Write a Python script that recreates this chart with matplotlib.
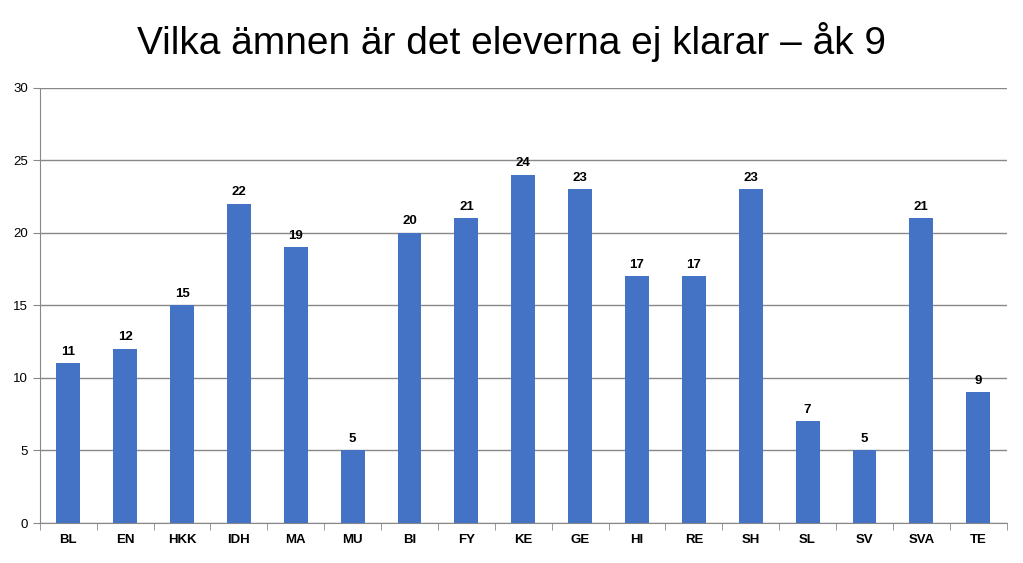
import matplotlib.pyplot as plt
import numpy as np

# Subjects and number of students not passing
subjects = ["BL", "EN", "HKK", "IDH", "MA", "MU", "BI", "FY", "KE", "GE",
            "HI", "RE", "SH", "SL", "SV", "SVA", "TE"]
counts = [11, 12, 15, 22, 19, 5, 20, 21, 24, 23, 17, 17, 23, 7, 5, 21, 9]
y_ticks = [0, 5, 10, 15, 20, 25, 30]

plt.rcParams["font.family"] = "Liberation Sans"

fig = plt.figure(figsize=(10.23, 5.63), dpi=100)
ax = fig.add_axes([0.039, 0.071, 0.945, 0.773])

x = np.arange(len(subjects))
bars = ax.bar(x, counts, width=0.42, color="#4472C4", zorder=3)

# Value labels above bars
for xi, v in zip(x, counts):
    ax.text(xi, v + 0.4, str(v), ha="center", va="bottom",
            fontsize=9.5, fontweight="bold")

ax.set_xlim(-0.5, len(subjects) - 0.5)
ax.set_ylim(0, 30)
ax.set_yticks(y_ticks)
ax.set_yticklabels([str(t) for t in y_ticks], fontsize=9.5)
ax.set_xticks(x)
ax.set_xticklabels(subjects, fontsize=9.5, fontweight="bold")
ax.set_xticks(np.arange(-0.5, len(subjects)), minor=True)
ax.tick_params(axis="x", which="major", length=0, pad=8)
ax.tick_params(axis="x", which="minor", length=5, color="#888888")
ax.tick_params(axis="y", length=5, color="#888888")

ax.yaxis.grid(True, color="#888888", linewidth=1, zorder=0)
for side in ["top", "right"]:
    ax.spines[side].set_visible(False)
ax.spines["left"].set_color("#888888")
ax.spines["bottom"].set_color("#888888")

fig.suptitle("Vilka ämnen är det eleverna ej klarar – åk 9", fontsize=28,
             y=0.925, va="center")

fig.savefig("out.png", dpi=100)
